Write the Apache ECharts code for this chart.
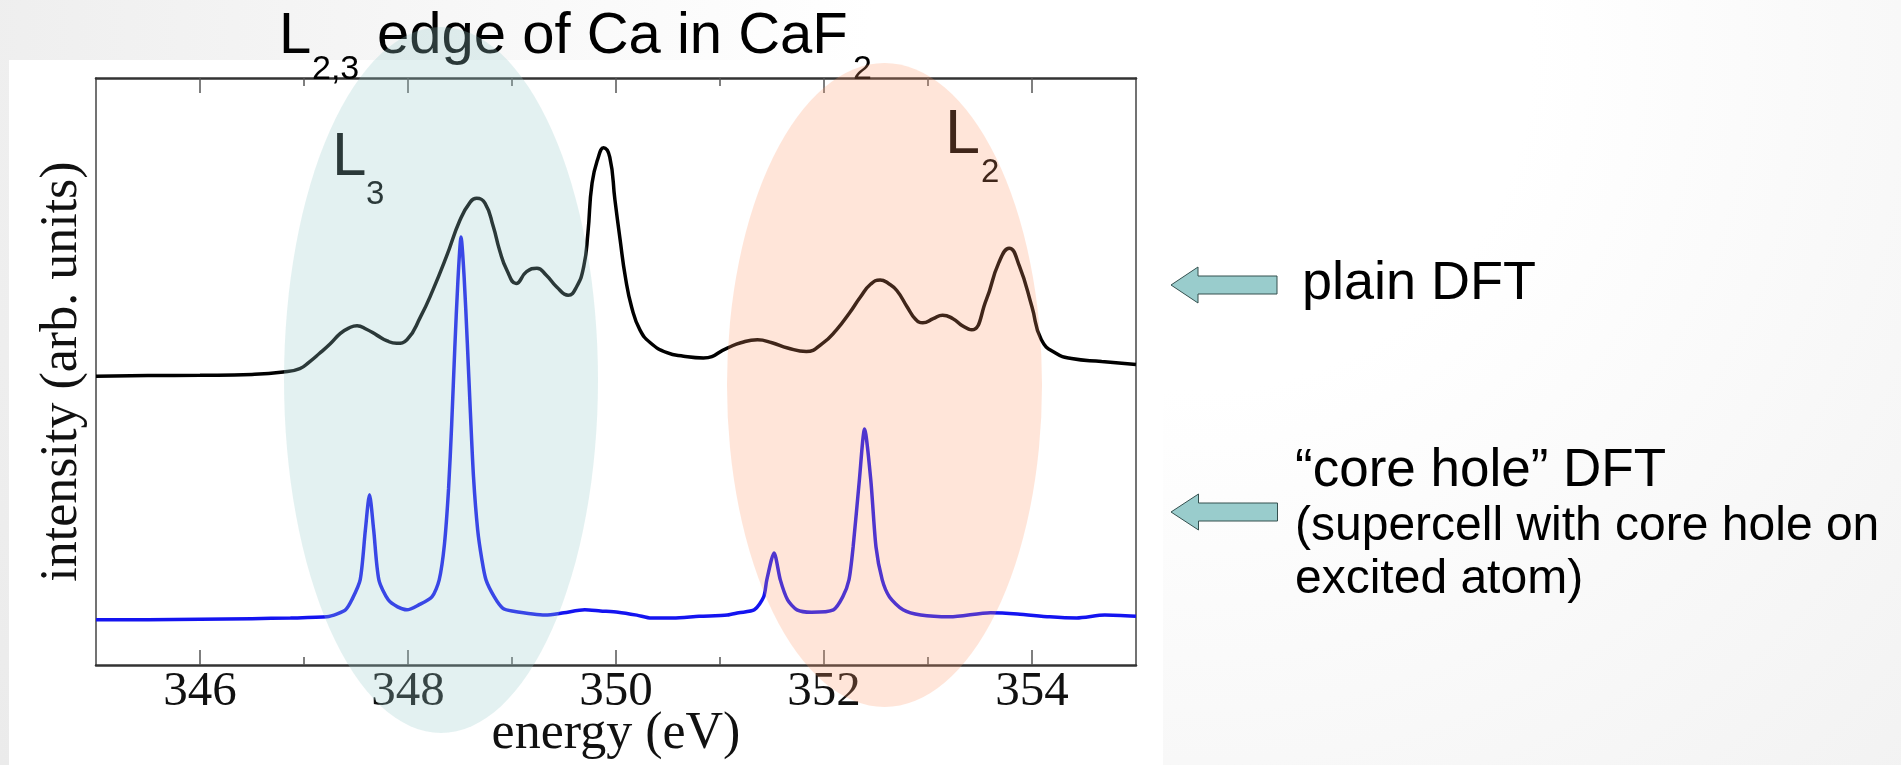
<!DOCTYPE html>
<html>
<head>
<meta charset="utf-8">
<script src="https://cdn.jsdelivr.net/npm/echarts@6/dist/echarts.min.js"></script>
<style>
  html, body { margin: 0; padding: 0; }
  body { width: 1901px; height: 765px; overflow: hidden;
         background: radial-gradient(circle at 1200px 60px, #ffffff 0px, #ffffff 330px, #ebebeb 1390px); }
  #chart { width: 1901px; height: 765px; }
</style>
</head>
<body>
<div id="chart"></div>
<script>
// ---- Data (energy in eV, intensity in arbitrary units) ----
const plainEnergy = [345.0, 345.5, 346.0, 346.5, 346.8, 346.96, 347.05, 347.15, 347.25, 347.35, 347.43, 347.51, 347.6, 347.7, 347.8, 347.89, 347.99,
  348.12, 348.24, 348.37, 348.5, 348.6, 348.66, 348.74, 348.82, 348.88, 348.95, 349.04, 349.14, 349.24, 349.33, 349.43, 349.54,
  349.62, 349.69, 349.73, 349.77, 349.83, 349.88, 349.94, 349.99, 350.04, 350.09, 350.15, 350.23, 350.33, 350.49, 350.65, 350.84,
  351.07, 351.2, 351.36, 351.5, 351.65, 351.83, 351.98, 352.12, 352.25, 352.35, 352.45, 352.54, 352.62, 352.7, 352.8, 352.88, 352.95,
  353.05, 353.14, 353.24, 353.33, 353.42, 353.56, 353.68, 353.78, 353.88, 354.0, 354.09, 354.23, 354.38, 354.67, 355.0];
const plainIntensity = [49.2, 49.3, 49.35, 49.5, 49.9, 50.5, 51.6, 53.1, 54.7, 56.5, 57.4, 57.8, 57.2, 56.2, 55.2, 54.8, 55.4,
  59.3, 63.9, 69.6, 75.8, 78.9, 79.5, 78.7, 74.7, 70.7, 67.3, 65.0, 67.0, 67.6, 66.4, 64.4, 63.0,
  64.4, 67.9, 73.6, 82.1, 86.5, 88.1, 86.5, 79.2, 72.4, 66.1, 61.0, 57.1, 54.9, 53.2, 52.6, 52.3,
  54.0, 54.9, 55.4, 54.9, 54.0, 53.4, 54.7, 57.1, 60.1, 62.7, 64.9, 65.6, 65.0, 63.8, 61.0, 58.9, 58.3,
  59.0, 59.6, 59.0, 57.8, 57.1, 62.2, 68.5, 71.0, 67.9, 61.0, 55.4, 53.1, 52.2, 51.7, 51.2];

const coreHoleEnergy = [345.0, 345.5, 346.0, 346.5, 346.87, 347.22, 347.32, 347.40, 347.46, 347.54, 347.59, 347.63, 347.67, 347.72, 347.81, 347.9, 347.99,
  348.1, 348.23, 348.30, 348.35, 348.39, 348.42, 348.45, 348.48, 348.51, 348.54, 348.57, 348.60, 348.63, 348.67, 348.71, 348.75, 348.83, 348.91,
  349.0, 349.32, 349.5, 349.7, 349.85, 350.02, 350.2, 350.34, 350.55, 350.8, 351.07, 351.18, 351.33, 351.42, 351.45, 351.52,
  351.58, 351.65, 351.74, 351.88, 352.09, 352.18, 352.24, 352.28, 352.34, 352.39, 352.45, 352.50, 352.56, 352.63, 352.76, 352.93,
  353.21, 353.6, 353.86, 354.17, 354.43, 354.7, 355.0];
const coreHoleIntensity = [7.7, 7.7, 7.8, 7.9, 8.0, 8.2, 8.7, 9.4, 11.1, 14.5, 23.0, 29.0, 23.0, 14.5, 11.1, 9.9, 9.4,
  10.2, 11.6, 14.5, 20.5, 30.0, 41.0, 54.0, 65.5, 72.9, 66.0, 55.0, 43.0, 32.0, 23.0, 18.0, 14.5, 11.6, 9.7,
  9.2, 8.5, 8.9, 9.4, 9.2, 9.0, 8.5, 8.0, 8.0, 8.3, 8.5, 8.9, 9.4, 11.6, 14.5, 19.1,
  14.5, 11.1, 9.4, 9.0, 9.4, 11.6, 14.5, 20.1, 31.5, 40.2, 31.5, 20.1, 14.5, 11.6, 9.4, 8.5,
  8.2, 8.9, 8.7, 8.2, 8.0, 8.5, 8.3];

const majorTicks = [346, 348, 350, 352, 354];
const minorTicks = [347, 349, 351, 353];
const xRange = [345, 355];
const yRange = [0, 100];

// ---- Chart ----
const zip = (xs, ys) => xs.map((x, i) => [x, ys[i]]);
const chart = echarts.init(document.getElementById('chart'), null, { renderer: 'canvas' });

const gridRect = { left: 96, top: 78, width: 1040, height: 587, containLabel: false, outerBoundsMode: 'none' };
const serif = 'Liberation Serif, Times New Roman, serif';
const sans = 'Liberation Sans, Arial, sans-serif';
const hLine = { show: true, onZero: false, lineStyle: { color: '#333', width: 2.5 } };
const vLine = { show: true, onZero: false, lineStyle: { color: '#444', width: 1.5 } };
const noLine = { show: false, onZero: false };

function txt(text, x, y, size, extra) {
  return Object.assign({ type: 'text', x: x, y: y, z: 50, silent: true,
    style: { text: text, fontFamily: sans, fontSize: size, fill: '#000', align: 'left', verticalAlign: 'middle' } }, extra || {});
}
function arrow(tipX, tipY, backX, endX, headHalf, shaftHalf) {
  return { type: 'polygon', z: 50, silent: true,
    shape: { points: [[tipX, tipY], [backX, tipY - headHalf], [backX, tipY - shaftHalf], [endX, tipY - shaftHalf],
                      [endX, tipY + shaftHalf], [backX, tipY + shaftHalf], [backX, tipY + headHalf]] },
    style: { fill: '#99cccc', stroke: '#34504f', lineWidth: 1 } };
}
function ellipse(cx, cy, rx, ry, color) {
  return { type: 'circle', x: cx, y: cy, scaleX: rx, scaleY: ry, z: 100, silent: true,
    shape: { cx: 0, cy: 0, r: 1 }, style: { fill: color } };
}

const option = {
  animation: false,
  backgroundColor: 'transparent',
  grid: [Object.assign({}, gridRect), Object.assign({}, gridRect)],
  xAxis: [
    { gridIndex: 0, type: 'value', position: 'bottom', min: xRange[0], max: xRange[1], interval: 1,
      axisLine: hLine, splitLine: { show: false },
      axisTick: { show: true, inside: true, length: 8, customValues: minorTicks, lineStyle: { color: '#555', width: 1.5 } },
      axisLabel: { show: false } },
    { gridIndex: 0, type: 'value', position: 'top', min: xRange[0], max: xRange[1], interval: 1,
      axisLine: hLine, splitLine: { show: false },
      axisTick: { show: true, inside: true, length: 8, customValues: minorTicks, lineStyle: { color: '#555', width: 1.5 } },
      axisLabel: { show: false } },
    { gridIndex: 1, type: 'value', position: 'bottom', min: xRange[0], max: xRange[1], interval: 1,
      axisLine: noLine, splitLine: { show: false },
      axisTick: { show: true, inside: true, length: 15, customValues: majorTicks, lineStyle: { color: '#555', width: 1.5 } },
      axisLabel: { show: true, customValues: majorTicks, margin: 3, fontFamily: serif, fontSize: 49, color: '#111' },
      name: 'energy (eV)', nameLocation: 'middle', nameGap: 43, nameMoveOverlap: false,
      nameTextStyle: { fontFamily: serif, fontSize: 52, color: '#111' } },
    { gridIndex: 1, type: 'value', position: 'top', min: xRange[0], max: xRange[1], interval: 1,
      axisLine: noLine, splitLine: { show: false },
      axisTick: { show: true, inside: true, length: 15, customValues: majorTicks, lineStyle: { color: '#555', width: 1.5 } },
      axisLabel: { show: false } }
  ],
  yAxis: [
    { gridIndex: 0, type: 'value', position: 'left', min: yRange[0], max: yRange[1],
      axisLine: vLine, axisTick: { show: false }, axisLabel: { show: false }, splitLine: { show: false },
      name: 'intensity (arb. units)', nameLocation: 'middle', nameGap: 8, nameMoveOverlap: false,
      nameTextStyle: { fontFamily: serif, fontSize: 52, color: '#111' } },
    { gridIndex: 0, type: 'value', position: 'right', min: yRange[0], max: yRange[1],
      axisLine: vLine, axisTick: { show: false }, axisLabel: { show: false }, splitLine: { show: false } },
    { gridIndex: 1, type: 'value', show: false, min: yRange[0], max: yRange[1], axisLine: noLine }
  ],
  series: [
    { name: 'plain DFT', type: 'line', xAxisIndex: 0, yAxisIndex: 0, data: zip(plainEnergy, plainIntensity),
      showSymbol: false, smooth: 0.5, lineStyle: { color: '#000', width: 3.5 }, z: 3 },
    { name: 'core hole DFT', type: 'line', xAxisIndex: 0, yAxisIndex: 0, data: zip(coreHoleEnergy, coreHoleIntensity),
      showSymbol: false, smooth: 0.25, lineStyle: { color: '#1414f0', width: 3.5 }, z: 4 }
  ],
  graphic: { elements: [
    { type: 'rect', z: -100, silent: true, shape: { x: 9, y: 60, width: 1154, height: 705 }, style: { fill: '#ffffff' } },
    // title
    txt('L', 279, 37, 58),
    txt('2,3', 312, 70, 34),
    txt('edge of Ca in CaF', 377, 37, 58),
    txt('2', 853, 70, 34),
    // edge labels
    txt('L', 332, 158, 62),
    txt('3', 366, 195, 33),
    txt('L', 945, 136, 63),
    txt('2', 981, 173, 33),
    // right-side annotations
    arrow(1171, 285, 1198, 1277, 18, 9),
    arrow(1171, 512, 1198.5, 1277.5, 18, 9),
    txt('plain DFT', 1302, 284, 54),
    txt('\u201ccore hole\u201d DFT', 1295, 471, 53),
    txt('(supercell with core hole on', 1295, 527, 48),
    txt('excited atom)', 1295, 580, 48),
    // translucent highlight ellipses (drawn on top)
    ellipse(441, 380, 157, 353, 'rgba(153,204,204,0.28)'),
    ellipse(884.5, 385, 157.5, 322, 'rgba(255,153,102,0.25)')
  ] }
};
chart.setOption(option);
</script>
</body>
</html>
